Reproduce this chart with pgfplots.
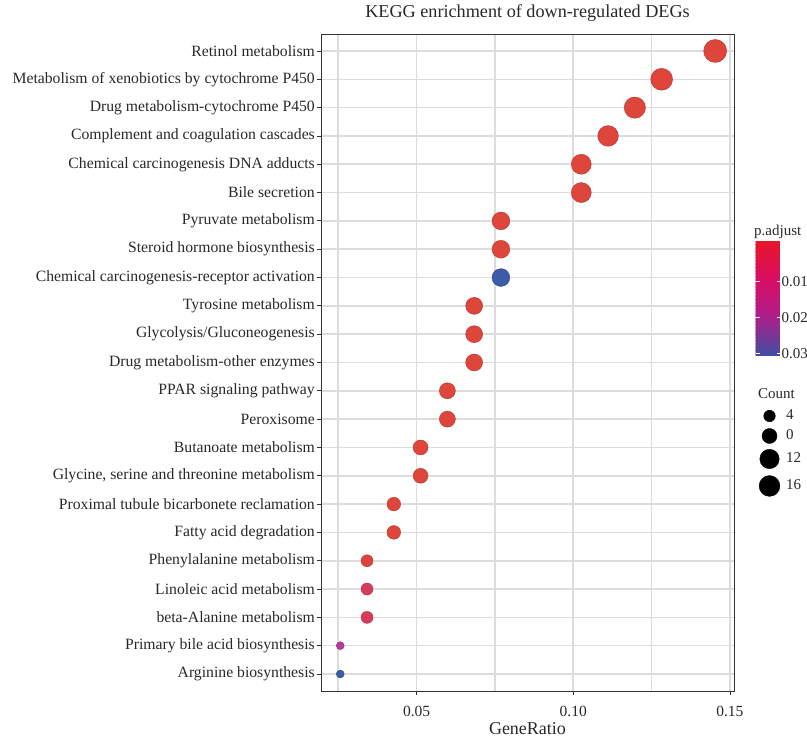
\documentclass[border=0pt]{standalone}
\usepackage{pgfplots}
\usepackage{pgfplotstable}
\pgfplotsset{compat=1.18}
\usepackage{fontspec}
\setmainfont{Liberation Serif}
\definecolor{gridgray}{RGB}{220,220,220}
\definecolor{txt}{RGB}{40,40,40}
\pgfplotsset{
  colormap={pts}{rgb255(0pt)=(222,70,58); rgb255(3pt)=(221,66,62); rgb255(8pt)=(216,60,92); rgb255(20pt)=(184,58,154); rgb255(30pt)=(60,92,170)},
  colormap={barmap}{rgb255(0pt)=(232,22,40); rgb255(11pt)=(216,14,100); rgb255(21pt)=(176,30,138); rgb255(32pt)=(66,78,162)},
}
\pgfplotstableread{
ratio count p
0.02564 3 0.030
0.02564 3 0.020
0.03419 4 0.008
0.03419 4 0.008
0.03419 4 0.002
0.04274 5 0.001
0.04274 5 0.001
0.05128 6 0.001
0.05128 6 0.001
0.05983 7 0.001
0.05983 7 0.001
0.06838 8 0.001
0.06838 8 0.001
0.06838 8 0.001
0.07692 9 0.030
0.07692 9 0.001
0.07692 9 0.001
0.10256 12 0.001
0.10256 12 0.001
0.11111 13 0.001
0.11966 14 0.001
0.12821 15 0.001
0.14530 17 0.001
}\datatable
\begin{document}
\begin{tikzpicture}
\useasboundingbox (0,0) rectangle (807pt,744pt);
\begin{axis}[
  at={(321pt,53pt)}, anchor=south west, scale only axis,
  width=413pt, height=657pt,
  xmin=0.0195, xmax=0.1513, ymin=0.4, ymax=23.6,
  xtick={0.05,0.10,0.15}, xticklabels={0.05,0.10,0.15},
  minor xtick={0.025,0.075,0.125},
  ytick={1,...,23},
  yticklabels={Arginine biosynthesis, Primary bile acid biosynthesis, beta-Alanine metabolism, Linoleic acid metabolism, Phenylalanine metabolism, Fatty acid degradation, Proximal tubule bicarbonete reclamation, {Glycine, serine and threonine metabolism}, Butanoate metabolism, Peroxisome, PPAR signaling pathway, Drug metabolism-other enzymes, Glycolysis/Gluconeogenesis, Tyrosine metabolism, Chemical carcinogenesis-receptor activation, Steroid hormone biosynthesis, Pyruvate metabolism, Bile secretion, Chemical carcinogenesis DNA adducts, Complement and coagulation cascades, Drug metabolism-cytochrome P450, Metabolism of xenobiotics by cytochrome P450, Retinol metabolism},
  grid=both,
  major grid style={draw=gridgray, line width=1.6pt},
  minor grid style={draw=gridgray, line width=1.6pt},
  minor tick length=0pt, major tick length=4pt, tick align=outside, tick pos=left,
  tick style={draw=black!80, line width=0.8pt},
  axis line style={draw=black!80, line width=0.8pt},
  yticklabel style={font=\fontsize{15.7}{17}\selectfont, text=txt, inner sep=2pt},
  xticklabel style={font=\fontsize{15.5}{17}\selectfont, text=txt, anchor=base, yshift=-22pt},
  title={KEGG enrichment of down-regulated DEGs},
  title style={font=\fontsize{18.2}{20}\selectfont, text=txt, at={(0.5,1)}, anchor=base, yshift=10pt},
  xlabel={GeneRatio},
  xlabel style={font=\fontsize{18}{20}\selectfont, text=txt, at={(0.5,0)}, anchor=base, yshift=-44pt},
  colormap name=pts, point meta min=0, point meta max=0.03,
]
\addplot[scatter, only marks, mark=*, point meta=\thisrow{p},
  visualization depends on={\thisrow{count}\as\cnt},
  scatter/@pre marker code/.append style={/tikz/mark size={4+7.5*sqrt((\cnt-3)/14)}}]
  table[x=ratio, y expr=\coordindex+1] {\datatable};
\end{axis}
% colour bar
\begin{axis}[
  at={(755pt,503pt)}, anchor=north west, scale only axis,
  width=25pt, height=115pt, hide axis,
  xmin=0, xmax=1, ymin=0, ymax=1,
  colormap name=barmap, point meta min=-0.0012, point meta max=0.0308,
  colorbar sampled,
  colorbar style={at={(parent axis.north west)}, anchor=north west, xshift=-8pt,
    width=25pt, height=115pt, y dir=reverse, samples=80,
    scaled y ticks=false,
    ytick={0.01,0.02,0.03}, yticklabels={0.01,0.02,0.03},
    ytick pos=both, yticklabel pos=right, tick align=inside,
    major tick length=4pt, tick style={draw=white, line width=1pt},
    axis line style={draw=none},
    yticklabel style={font=\fontsize{15}{16}\selectfont, text=txt, inner sep=1pt}},
]
\addplot[draw=none, forget plot] coordinates {(0,0)};
\end{axis}
% size legend
\begin{axis}[
  at={(0pt,0pt)}, anchor=south west, x=1pt, y=1pt,
  xmin=0, xmax=807, ymin=0, ymax=744, hide axis, clip=false,
]
\addplot[only marks, mark=*, black, mark size=5.8pt] coordinates {(769.5,328)};
\addplot[only marks, mark=*, black, mark size=7.5pt] coordinates {(769.5,308)};
\addplot[only marks, mark=*, black, mark size=9.7pt] coordinates {(769.5,285)};
\addplot[only marks, mark=*, black, mark size=10.4pt] coordinates {(769.5,258)};
\end{axis}
\begin{scope}[every node/.style={anchor=west, font=\fontsize{15}{16}\selectfont, text=txt, inner sep=0pt}]
\node at (786pt,329pt) {4};
\node at (786pt,309pt) {0};
\node at (786pt,286pt) {12};
\node at (786pt,259pt) {16};
\end{scope}
\node[anchor=base west, font=\fontsize{15}{17}\selectfont, text=txt, inner sep=0pt] at (754pt,508pt) {p.adjust};
\node[anchor=base west, font=\fontsize{15}{17}\selectfont, text=txt, inner sep=0pt] at (758pt,345pt) {Count};
\end{tikzpicture}
\end{document}
